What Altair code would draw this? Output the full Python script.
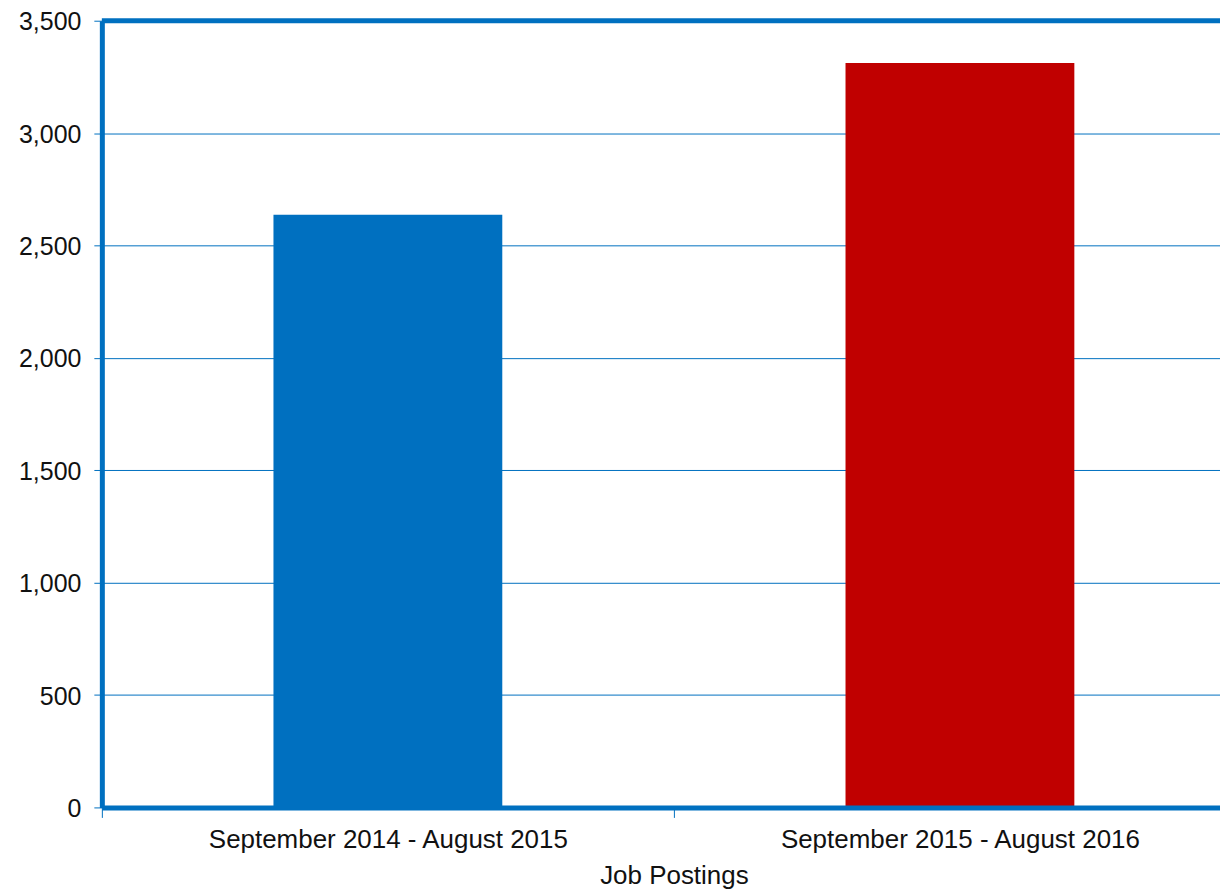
import altair as alt
import pandas as pd

categories = ["September 2014 - August 2015", "September 2015 - August 2016"]
values = [2637, 3312]
colors = ["#0070C0", "#C00000"]
y_ticks = [0, 500, 1000, 1500, 2000, 2500, 3000, 3500]

BLUE = "#0070C0"
FONT = "Liberation Sans"
W = 1120
STEP = 573.0
XMAX = W / STEP

df = pd.DataFrame({
    "category": categories,
    "value": values,
    "color": colors,
})
df["center"] = [i + 0.5 for i in range(len(categories))]
df["x0"] = df["center"] - 0.2
df["x1"] = df["center"] + 0.2
df["base"] = 0

label_expr = " : ".join(
    [f"datum.value == {i + 0.5} ? '{c}'" for i, c in enumerate(categories)]
) + " : ''"

x_axis = alt.Axis(
    values=[0, 0.5, 1, 1.5],
    labelExpr=label_expr,
    tickOpacity={"condition": {"test": "datum.value % 1 != 0", "value": 0}, "value": 1},
    tickColor=BLUE,
    tickSize=10,
    tickWidth=1,
    domainColor=BLUE,
    domainWidth=5,
    grid=False,
    labelFont=FONT,
    labelFontSize=26,
    labelColor="#111111",
    labelPadding=9,
    labelLimit=0,
    title="Job Postings",
    titleFont=FONT,
    titleFontSize=26,
    titleFontWeight="normal",
    titleColor="#111111",
    titlePadding=10,
    titleX=STEP,
    titleAlign="center",
    zindex=1,
)

y_axis = alt.Axis(
    values=y_ticks,
    labelExpr="format(datum.value, ',')",
    grid=True,
    gridColor=BLUE,
    gridWidth=1,
    tickColor=BLUE,
    tickSize=8,
    tickWidth=1,
    domainColor=BLUE,
    domainWidth=5,
    labelFont=FONT,
    labelFontSize=25,
    labelColor="#111111",
    labelPadding=13,
    labelBaseline="alphabetic",
    labelOffset=9,
    labelFlush=False,
    title=None,
)

x_scale = alt.Scale(domain=[0, XMAX], nice=False, zero=True)
y_scale = alt.Scale(domain=[0, max(y_ticks)], nice=False)

bars = alt.Chart(df).mark_bar().encode(
    x=alt.X("x0:Q", scale=x_scale, axis=x_axis),
    x2="x1:Q",
    y=alt.Y("value:Q", scale=y_scale, axis=y_axis),
    y2="base:Q",
    color=alt.Color("color:N", scale=None, legend=None),
)

top = alt.Chart(pd.DataFrame({"value": [max(y_ticks)]})).mark_rule(
    color=BLUE, strokeWidth=5
).encode(y=alt.Y("value:Q", scale=y_scale, axis=y_axis))

chart = alt.layer(bars, top).properties(
    width=W,
    height=788,
    autosize=alt.AutoSizeParams(type="none"),
    padding={"left": 94, "top": 12, "right": 0, "bottom": 88},
).configure_view(stroke=None).configure(background="white")

chart.save("out.html", embed_options={"renderer": "svg", "actions": False})
